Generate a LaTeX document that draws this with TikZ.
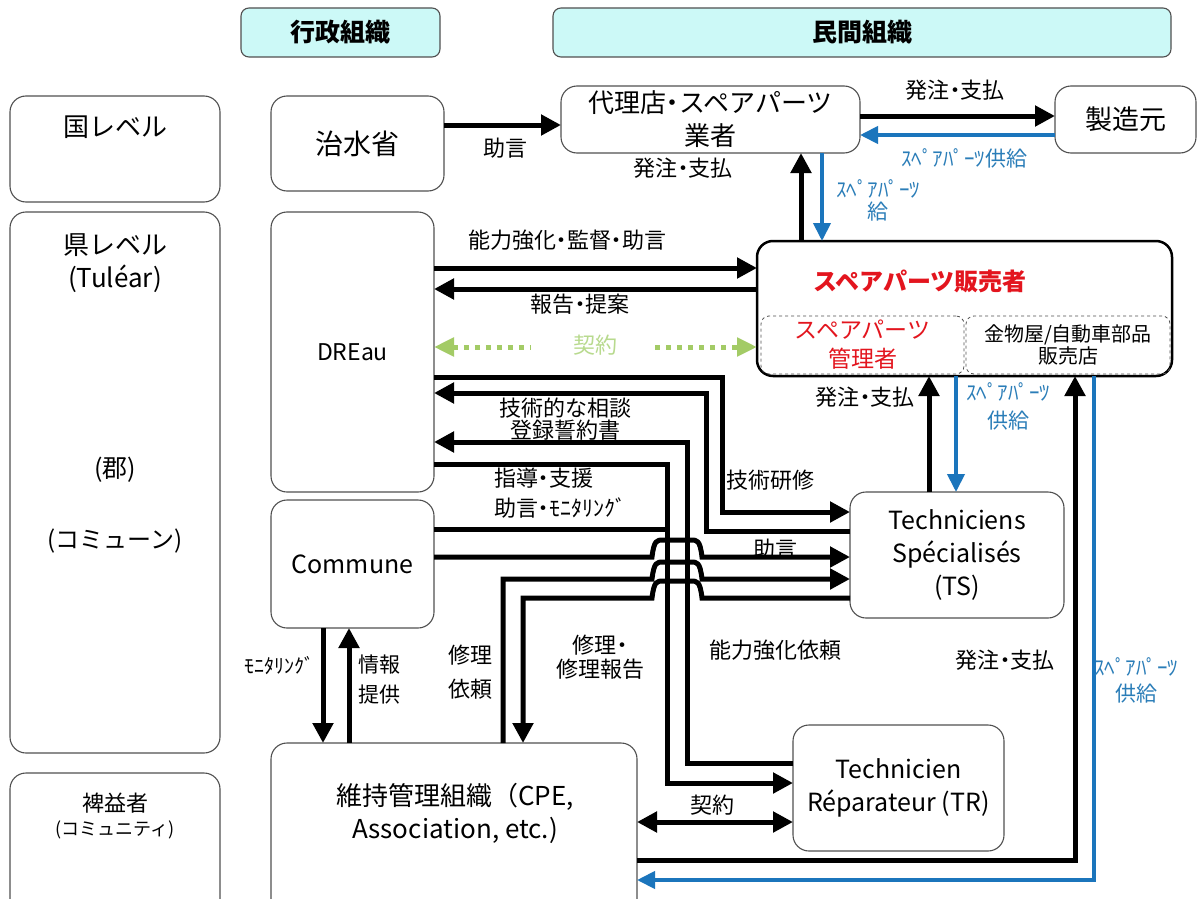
\documentclass[tikz,border=0pt]{standalone}
\usepackage{fontspec}
\setmainfont{Noto Sans CJK JP}
\usetikzlibrary{arrows.meta}
\definecolor{hdr}{HTML}{CCF9F7}
\definecolor{bl}{HTML}{1B75BC}
\definecolor{blt}{HTML}{2A7DB8}
\definecolor{rd}{HTML}{E3151E}
\definecolor{gr}{HTML}{A3CB66}
\definecolor{grt}{HTML}{B8DA8E}
\definecolor{bd}{HTML}{505050}
\newcommand{\ndot}{\kern-.25em・\kern-.25em}
\begin{document}
\begin{tikzpicture}[x=1pt,y=-1pt,
 box/.style={draw=bd, line width=1.1pt, rounded corners=16pt, fill=white, inner sep=0pt, outer sep=0pt, align=center, font=\fontsize{25}{33}\selectfont},
 hbox/.style={draw=bd, line width=1.1pt, rounded corners=8pt, fill=hdr, inner sep=0pt, outer sep=0pt, font=\fontsize{25}{26}\selectfont\bfseries},
 dbox/.style={draw=bd, line width=0.8pt, dashed, rounded corners=8pt, inner sep=0pt, outer sep=0pt, align=center},
 arr/.style={line width=5pt, -{Triangle[length=20pt,width=20pt]}},
 ln/.style={line width=5pt},
 barr/.style={draw=bl, line width=4pt, -{Triangle[length=18pt,width=17pt]}},
 lab/.style={inner sep=0pt, align=center, font=\fontsize{22}{24}\selectfont},
 blab/.style={lab, text=blt, font=\fontsize{21}{26}\selectfont},
 gdot/.style={draw=gr, line width=5pt, dash pattern=on 5pt off 6pt},
]
\useasboundingbox (0,0) rectangle (1202,899);
\clip (0,0) rectangle (1202,899);
\fill[white] (0,0) rectangle (1202,899);

% headers
\node[hbox, minimum width=199, minimum height=49] (h1) at (340.5,32.5) {行政組織};
\node[hbox, minimum width=618, minimum height=49] (h2) at (862,32.5) {民間組織};

% left column
\node[box, minimum width=210, minimum height=106, anchor=north west] (koku) at (10,96) {};
\node[lab, font=\fontsize{26}{28}\selectfont] (kokut) at (115,127) {国レベル};
\node[box, minimum width=210, minimum height=541, anchor=north west] (ken) at (10,212) {};
\node[lab, font=\fontsize{26}{33}\selectfont] (kent) at (115,263) {県レベル\\(Tuléar)};
\node[lab, font=\fontsize{25}{28}\selectfont] (gun) at (115,470) {(郡)};
\node[lab, font=\fontsize{24}{28}\selectfont] (comm) at (115,541) {(コミューン)};
\node[box, minimum width=210, minimum height=180, anchor=north west] (hieki) at (10,773) {};
\node[lab, font=\fontsize{22}{27}\selectfont] (hiekit1) at (115,803) {裨益者};
\node[lab, font=\fontsize{18}{27}\selectfont] (hiekit2) at (115,830) {(コミュニティ)};

% middle column
\node[box, font=\fontsize{28}{33}\selectfont, minimum width=173, minimum height=95, anchor=north west] (chisui) at (271,96) {治水省};
\node[box, font=\fontsize{23}{33}\selectfont, minimum width=163, minimum height=280, anchor=north west] (dreau) at (271,212) {DREau};
\node[box, minimum width=163, minimum height=128, anchor=north west] (commune) at (271,500) {Commune};
\node[box, minimum width=366, minimum height=200, anchor=north west] (ijikanri) at (271,743) {};
\node[lab, font=\fontsize{26}{33}\selectfont] (ijit) at (455,813) {維持管理組織（CPE,\\Association, etc.)};

% right side
\node[box, font=\fontsize{26}{33}\selectfont, minimum width=299, minimum height=67, anchor=north west] (dairi) at (561,86) {代理店\ndot スペアパーツ\\業者};
\node[box, font=\fontsize{27}{33}\selectfont, minimum width=141, minimum height=67, anchor=north west] (seizo) at (1055,86) {製造元};
\node[box, draw=black, line width=2.5pt, minimum width=415, minimum height=135, anchor=north west] (hanbai) at (757,241) {};
\node[lab, text=rd, font=\fontsize{24}{28}\selectfont\bfseries] (hanbait) at (920,281) {スペアパーツ販売者};
\node[dbox, minimum width=203, minimum height=58, anchor=north west, text=rd, font=\fontsize{23}{29}\selectfont] (kanri) at (761,316) {スペアパーツ\\管理者};
\node[dbox, minimum width=204, minimum height=58, anchor=north west, font=\fontsize{20}{20}\selectfont] (kanamono) at (966,316) {金物屋/自動車部品\\販売店};
\node[box, minimum width=214, minimum height=126, anchor=north west] (ts) at (850,492) {Techniciens\\Spécialisés\\(TS)};
\node[box, minimum width=211, minimum height=126, anchor=north west] (tr) at (793,725) {Technicien\\Réparateur (TR)};

% connectors top
\draw[arr] (chisui.east |- 0,125) -- (dairi.west |- 0,125);
\node[lab] (l1) at (505,148) {助言};
\draw[arr] (dairi.east |- 0,116) -- (seizo.west |- 0,116);
\node[lab] (l2) at (955,90) {発注\ndot 支払};
\draw[barr] (seizo.west |- 0,135) -- (dairi.east |- 0,135);
\node[blab] (l3) at (964,158) {ｽﾍﾟｱﾊﾟｰﾂ供給};
\draw[arr] (801,0 |- hanbai.north) -- (801,0 |- dairi.south);
\node[lab] (l4) at (683,168) {発注\ndot 支払};
\draw[barr] (822,0 |- dairi.south) -- (822,0 |- hanbai.north);
\node[blab, font=\fontsize{21}{22}\selectfont] (l5) at (878,200) {ｽﾍﾟｱﾊﾟｰﾂ\\給};

% DREau <-> hanbai
\draw[arr] (dreau.east |- 0,268) -- (hanbai.west |- 0,268);
\node[lab] (l6) at (567,240) {能力強化\ndot 監督\ndot 助言};
\draw[arr] (hanbai.west |- 0,289) -- (dreau.east |- 0,289);
\node[lab] (l7) at (580,304) {報告\ndot 提案};
\draw[gdot, {Triangle[length=20pt,width=18pt]}-] (dreau.east |- 0,347) -- (530,347);
\draw[gdot, -{Triangle[length=20pt,width=18pt]}] (655,347) -- (hanbai.west |- 0,347);
\node[lab, text=grt] (l8) at (595,345) {契約};

% DREau <-> TS / TR
\draw[arr] (dreau.east |- 0,377) -- (722,377) -- (722,512) -- (ts.west |- 0,512);
\node[lab] (l9) at (770,480) {技術研修};
\draw[arr] (ts.west |- 0,531) -- (706,531) -- (706,393) -- (dreau.east |- 0,393);
\draw[arr] (tr.west |- 0,763) -- (687,763) -- (687,442) -- (dreau.east |- 0,442);
\node[lab, font=\fontsize{22}{20}\selectfont] (l10) at (565,419) {技術的な相談\\登録誓約書};
\draw[arr] (dreau.east |- 0,464) -- (667,464) -- (667,783) -- (tr.west |- 0,783);
\node[lab, font=\fontsize{22}{30}\selectfont, align=left, anchor=west] (l11) at (494,493) {指導\ndot 支援\\助言\ndot ﾓﾆﾀﾘﾝｸﾞ};
\draw[ln] (commune.east |- 0,529) -- (667,529);

% Commune -> TS with hops
\draw[arr] (commune.east |- 0,557) -- (652,557) .. controls (654,540) and (657,540) .. (663,540) -- (691,540) .. controls (697,540) and (700,540) .. (702,557) -- (ts.west |- 0,557);
\node[lab] (l12) at (775,549) {助言};
\draw[arr] (503,0 |- ijikanri.north) -- (503,579) -- (652,579) .. controls (654,562) and (657,562) .. (663,562) -- (691,562) .. controls (697,562) and (700,562) .. (702,579) -- (ts.west |- 0,579);
\draw[arr] (ts.west |- 0,598) -- (702,598) .. controls (700,581) and (697,581) .. (691,581) -- (663,581) .. controls (657,581) and (654,581) .. (652,598) -- (523,598) -- (523,0 |- ijikanri.north);
\node[lab, font=\fontsize{22}{34}\selectfont] (l13) at (470,672) {修理\\依頼};
\node[lab, font=\fontsize{22}{24}\selectfont] (l14) at (600,657) {修理\ndot\\修理報告};
\node[lab] (l15) at (775,650) {能力強化依頼};

% Commune <-> ijikanri
\draw[arr] (323,0 |- commune.south) -- (323,0 |- ijikanri.north);
\node[lab, font=\fontsize{20}{20}\selectfont] (l16) at (279,666) {ﾓﾆﾀﾘﾝｸﾞ};
\draw[arr] (349,0 |- ijikanri.north) -- (349,0 |- commune.south);
\node[lab, font=\fontsize{21}{30}\selectfont] (l17) at (379,680) {情報\\提供};

% ijikanri <-> TR
\draw[line width=5pt, {Triangle[length=20pt,width=20pt]}-{Triangle[length=20pt,width=20pt]}] (ijikanri.east |- 0,822) -- (tr.west |- 0,822);
\node[lab] (l18) at (712,805) {契約};

% TS <-> hanbai
\draw[arr] (929,0 |- ts.north) -- (929,0 |- hanbai.south);
\node[lab] (l19) at (865,397) {発注\ndot 支払};
\draw[barr] (956,0 |- hanbai.south) -- (956,0 |- ts.north);
\node[blab, font=\fontsize{21}{28}\selectfont] (l20) at (1008,406) {ｽﾍﾟｱﾊﾟｰﾂ\\供給};

% ijikanri <-> hanbai
\draw[arr] (ijikanri.east |- 0,860) -- (1075,860) -- (1075,0 |- hanbai.south);
\node[lab] (l21) at (1005,660) {発注\ndot 支払};
\draw[barr] (1094,0 |- hanbai.south) -- (1094,880) -- (ijikanri.east |- 0,880);
\node[blab, font=\fontsize{21}{26}\selectfont] (l22) at (1136,680) {ｽﾍﾟｱﾊﾟｰﾂ\\供給};
\end{tikzpicture}
\end{document}
